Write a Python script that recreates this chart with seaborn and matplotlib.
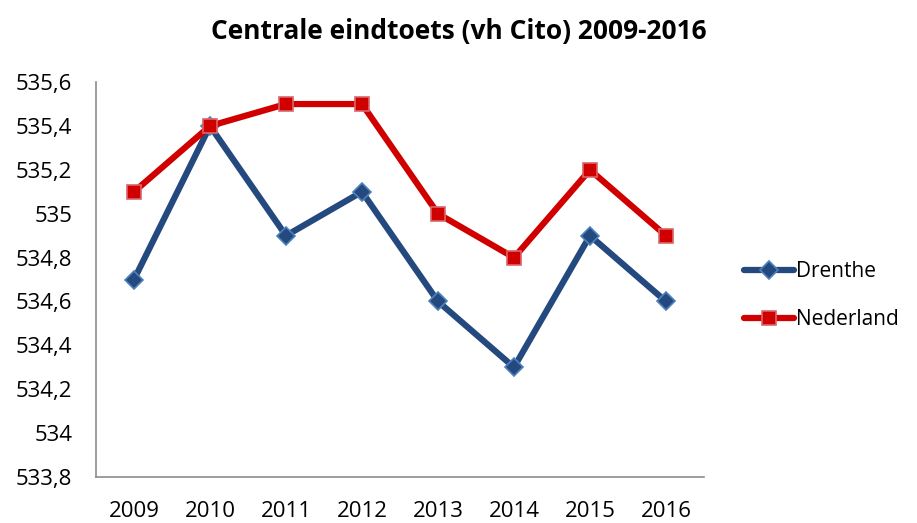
import numpy as np
import pandas as pd
import matplotlib
matplotlib.use("Agg")
import matplotlib.pyplot as plt
from matplotlib.ticker import FuncFormatter, MultipleLocator
import seaborn as sns

# data
years = [2009, 2010, 2011, 2012, 2013, 2014, 2015, 2016]
drenthe = [534.7, 535.4, 534.9, 535.1, 534.6, 534.3, 534.9, 534.6]
nederland = [535.1, 535.4, 535.5, 535.5, 535.0, 534.8, 535.2, 534.9]

df = pd.DataFrame({
    "jaar": years * 2,
    "score": drenthe + nederland,
    "regio": ["Drenthe"] * len(years) + ["Nederland"] * len(years),
})

sns.set_theme(style="white")
plt.rcParams["font.family"] = ["Open Sans", "DejaVu Sans"]
plt.rcParams["text.color"] = "black"

fig = plt.figure(figsize=(9.17, 5.23), dpi=100)
ax = fig.add_axes([0.1047, 0.088, 0.663, 0.755])

colors = {"Drenthe": "#24497E", "Nederland": "#D00000"}
edges = {"Drenthe": "#4F81BD", "Nederland": "#D9676B"}
marks = {"Drenthe": "D", "Nederland": "s"}

for regio in ["Drenthe", "Nederland"]:
    sub = df[df["regio"] == regio]
    sns.lineplot(data=sub, x="jaar", y="score", ax=ax, color=colors[regio],
                 linewidth=4.5, marker=marks[regio], markersize=10 if regio == "Nederland" else 9,
                 markerfacecolor=colors[regio], markeredgecolor=edges[regio],
                 markeredgewidth=1.2, label=regio)

ax.set_xlim(2008.5, 2016.5)
ax.set_ylim(533.8, 535.6)
ax.yaxis.set_major_locator(MultipleLocator(0.2))
ax.set_xticks(years)
ax.set_xticklabels([str(y) for y in years])


def fmt(v, pos):
    s = f"{v:.1f}".replace(".", ",")
    if s.endswith(",0"):
        s = s[:-2]
    return s


ax.yaxis.set_major_formatter(FuncFormatter(fmt))
ax.set_xlabel("")
ax.set_ylabel("")
ax.tick_params(axis="both", labelsize=16, length=0, colors="#000000")
ax.tick_params(axis="x", pad=17)
ax.tick_params(axis="y", pad=17)
for lbl in ax.get_yticklabels():
    lbl.set_horizontalalignment("right")

for side in ["top", "right"]:
    ax.spines[side].set_visible(False)
for side in ["left", "bottom"]:
    ax.spines[side].set_color("#8C8C8C")
    ax.spines[side].set_linewidth(1.2)

ax.legend(loc="center left", bbox_to_anchor=(1.035, 0.46), frameon=False,
          fontsize=15, handlelength=2.4, handletextpad=0.1, labelspacing=1.3,
          labelcolor="black")

fig.suptitle("Centrale eindtoets (vh Cito) 2009-2016", x=0.5, y=0.965,
             fontsize=19, fontweight="bold", color="black")

fig.savefig("out.png", dpi=100)
